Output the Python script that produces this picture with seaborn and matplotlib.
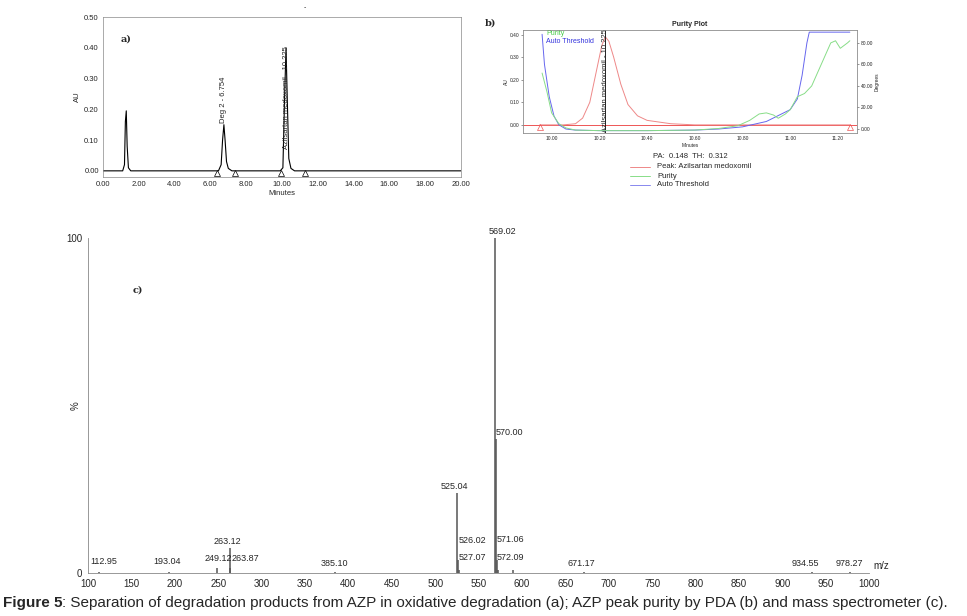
import matplotlib
matplotlib.use("Agg")
import matplotlib.pyplot as plt
import seaborn as sns
import pandas as pd
from matplotlib.lines import Line2D

sns.set_theme(style="white")
plt.rcParams["font.family"] = "Liberation Sans"

# ---- panel a: chromatogram
a_time = [0.0, 1.1, 1.2, 1.25, 1.3, 1.35, 1.42, 1.55, 6.45, 6.6, 6.68, 6.754, 6.82, 6.9, 7.0, 7.2, 9.9, 10.05, 10.15, 10.225, 10.3, 10.38, 10.5, 10.7, 20.0]
a_au = [0.0, 0.0, 0.02, 0.16, 0.195, 0.08, 0.01, 0.0, 0.0, 0.02, 0.1, 0.15, 0.1, 0.03, 0.008, 0.0, 0.0, 0.01, 0.25, 0.40, 0.22, 0.04, 0.008, 0.0, 0.0]
a_marks = [6.35, 7.4, 9.95, 11.3]
a_xticks = [0, 2, 4, 6, 8, 10, 12, 14, 16, 18, 20]
a_yticks = [0.0, 0.1, 0.2, 0.3, 0.4, 0.5]

# ---- panel b: purity plot
b_peak_t = [9.95, 10.05, 10.10, 10.13, 10.16, 10.19, 10.21, 10.225, 10.24, 10.26, 10.29, 10.32, 10.36, 10.40, 10.50, 10.60, 11.25]
b_peak_au = [0.0, 0.0, 0.005, 0.03, 0.10, 0.25, 0.35, 0.39, 0.37, 0.30, 0.18, 0.09, 0.04, 0.02, 0.005, 0.0, 0.0]
b_thr_t = [9.96, 9.97, 9.99, 10.01, 10.03, 10.06, 10.1, 10.2, 10.4, 10.6, 10.7, 10.8, 10.9, 11.0, 11.03, 11.05, 11.07, 11.08, 11.25]
b_thr_deg = [88, 60, 30, 12, 4, 0, -1, -1.5, -1.5, -1, 0, 2, 7, 18, 28, 50, 80, 90, 90]
b_pur_t = [9.96, 9.98, 10.0, 10.03, 10.06, 10.1, 10.2, 10.4, 10.6, 10.7, 10.78, 10.83, 10.87, 10.9, 10.93, 10.95, 10.98, 11.0, 11.03, 11.06, 11.09, 11.13, 11.17, 11.19, 11.21, 11.24, 11.25]
b_pur_deg = [52, 35, 15, 5, 1, -1, -1.5, -1.5, -1, 0.5, 3, 8, 14, 15, 13, 10, 14, 18, 30, 33, 40, 60, 80, 82, 75, 80, 82]
b_xticks = [10.0, 10.2, 10.4, 10.6, 10.8, 11.0, 11.2]
b_xticklabels = ["10.00", "10.20", "10.40", "10.60", "10.80", "11.00", "11.20"]
b_yticks = [0.0, 0.1, 0.2, 0.3, 0.4]
b_y2ticks = [0, 20, 40, 60, 80]

# ---- panel c: mass spectrum
c_mz = [112.95, 193.04, 249.12, 263.12, 263.87, 385.10, 525.04, 526.02, 527.07, 569.02, 570.00, 571.06, 572.09, 590.0, 671.17, 934.55, 978.27]
c_int = [0.4, 0.4, 1.5, 7.5, 1.5, 0.3, 24.0, 4.0, 1.0, 100.0, 40.0, 4.0, 1.0, 0.8, 0.3, 0.2, 0.2]
c_lab = ["112.95", "193.04", "249.12", "263.12", "263.87", "385.10", "525.04", "526.02", "527.07", "569.02", "570.00", "571.06", "572.09", "", "671.17", "934.55", "978.27"]
c_lab_x = [103, 175, 234, 245, 266, 368, 506, 527, 527, 562, 570, 571, 571, 0, 653, 911, 961]
c_lab_y = [2.0, 2.0, 3.0, 8.0, 3.0, 1.5, 24.5, 8.5, 3.2, 100.5, 40.5, 8.8, 3.2, 0, 1.5, 1.5, 1.5]
c_xticks = list(range(100, 1001, 50))

W, H = 967, 616
fig = plt.figure(figsize=(W / 100, H / 100), dpi=100)
fig.patch.set_facecolor("white")

def rect(l, t, r, b):
    return [l / W, 1 - b / H, (r - l) / W, (b - t) / H]

fs = 5.5
# ===== panel a
axa = fig.add_axes(rect(103, 17, 461, 177))
sns.lineplot(x=a_time, y=a_au, ax=axa, color="black", lw=0.8, sort=False)
axa.set_xlim(0, 20); axa.set_ylim(-0.02, 0.5)
axa.set_xticks(a_xticks); axa.set_xticklabels([f"{v:.2f}" for v in a_xticks], fontsize=fs)
axa.set_yticks(a_yticks); axa.set_yticklabels([f"{v:.2f}" for v in a_yticks], fontsize=fs)
axa.set_xticks([x / 2 for x in range(41)], minor=True)
axa.set_yticks([y / 50 for y in range(26)], minor=True)
axa.tick_params(which="both", direction="out", length=2, width=0.5, color="#444", pad=1)
axa.tick_params(which="minor", length=1.2)
axa.set_xlabel("Minutes", fontsize=fs, labelpad=1)
axa.set_ylabel("AU", fontsize=fs, labelpad=2)
for s in axa.spines.values():
    s.set_linewidth(0.5); s.set_color("#888")
axa.plot(a_marks, [-0.006] * len(a_marks), ls="none", marker="^", mfc="white", mec="black", ms=4, mew=0.5)
axa.text(6.754, 0.155, "Deg 2 - 6.754", rotation=90, fontsize=fs, ha="center", va="bottom")
axa.text(10.225, 0.07, "Azilsartan medoxomil - 10.225", rotation=90, fontsize=fs, ha="center", va="bottom")
axa.text(1.0, 0.42, "a)", fontsize=7, fontweight="bold", family="DejaVu Serif")
fig.text(305 / W, 1 - 8 / H, "-", fontsize=5, ha="center", va="center")

# ===== panel b
axb = fig.add_axes(rect(523, 30, 857, 133))
axb.axhline(0, color="#ee5555", lw=0.7)
sns.lineplot(x=b_peak_t, y=b_peak_au, ax=axb, color="#ee8888", lw=0.7, sort=False)
axb.set_xlim(9.88, 11.28); axb.set_ylim(-0.036, 0.42)
axb.axvline(10.225, ymax=1.0, color="black", lw=0.6)
axb.text(10.225, -0.03, "Azilsartan medoxomil - 10.225", rotation=90, fontsize=5.5, ha="center", va="bottom")
axb.plot([9.95, 11.25], [-0.01, -0.01], ls="none", marker="^", mfc="none", mec="#ee5555", ms=4, mew=0.5)
axb2 = axb.twinx()
sns.lineplot(x=b_thr_t, y=b_thr_deg, ax=axb2, color="#6666ee", lw=0.7, sort=False)
sns.lineplot(x=b_pur_t, y=b_pur_deg, ax=axb2, color="#88dd88", lw=0.7, sort=False)
axb2.set_ylim(-3.7, 92)
axb2.set_yticks(b_y2ticks); axb2.set_yticklabels([f"{v:.2f}" for v in b_y2ticks], fontsize=3.5)
axb2.set_ylabel("Degrees", fontsize=3.5, labelpad=1)
axb.set_xticks(b_xticks); axb.set_xticklabels(b_xticklabels, fontsize=3.5)
axb.set_yticks(b_yticks); axb.set_yticklabels([f"{v:.2f}" for v in b_yticks], fontsize=3.5)
axb.set_xticks([9.9 + i * 0.05 for i in range(28)], minor=True)
for ax in (axb, axb2):
    ax.tick_params(which="both", direction="out", length=1.5, width=0.4, color="#444", pad=1)
    for s in ax.spines.values():
        s.set_linewidth(0.4); s.set_color("#888")
axb.set_xlabel("Minutes", fontsize=3.5, labelpad=1)
axb.set_ylabel("AU", fontsize=3.5, labelpad=1)
axb.set_title("Purity Plot", fontsize=5, fontweight="bold", pad=3)
axb.text(0.07, 0.97, "Purity", color="#44cc44", fontsize=5, transform=axb.transAxes, va="center")
axb.text(0.07, 0.89, "Auto Threshold", color="#3333dd", fontsize=5, transform=axb.transAxes, va="center")
fig.text(485 / W, 1 - 23 / H, "b)", fontsize=7, fontweight="bold", family="DejaVu Serif", va="center")
fig.text(653 / W, 1 - 157 / H, "PA:  0.148  TH:  0.312", fontsize=5.5, va="center")
for i, (lab, col) in enumerate([("Peak: Azilsartan medoxomil", "#ee8888"), ("Purity", "#88dd88"), ("Auto Threshold", "#8888ee")]):
    y = 1 - (167 + i * 9) / H
    fig.add_artist(Line2D([630 / W, 650 / W], [y, y], color=col, lw=0.7))
    fig.text(657 / W, y, lab, fontsize=5.5, va="center")

# ===== panel c
axc = fig.add_axes(rect(88, 238, 869, 573))
axc.vlines(c_mz, 0, c_int, color="#555", lw=1.1)
axc.set_xlim(100, 1000); axc.set_ylim(0, 100)
sns.despine(ax=axc)
axc.spines["left"].set_color("#888"); axc.spines["bottom"].set_color("#888")
axc.spines["left"].set_linewidth(0.6); axc.spines["bottom"].set_linewidth(0.6)
axc.set_xticks(c_xticks); axc.set_xticklabels([str(v) for v in c_xticks], fontsize=7)
axc.set_xticks(list(range(100, 1001, 5)), minor=True)
axc.set_yticks([0, 100]); axc.set_yticklabels(["0", "100"], fontsize=7)
axc.tick_params(which="both", direction="out", length=3, width=0.5, color="#555", pad=1)
axc.tick_params(which="minor", length=1.5)
axc.set_ylabel("%", fontsize=7, labelpad=-10)
for mz, it, lab, lx, ly in zip(c_mz, c_int, c_lab, c_lab_x, c_lab_y):
    if lab:
        axc.text(lx, ly, lab, fontsize=6.5, va="bottom", ha="left")
axc.text(1005, 0.5, "m/z", fontsize=7, va="bottom", ha="left")
fig.text(133 / W, 1 - 290 / H, "c)", fontsize=7, fontweight="bold", family="DejaVu Serif", va="center")

# caption
t1 = fig.text(3 / W, 1 - 603 / H, "Figure 5", fontsize=11, fontweight="bold", va="center")
fig.canvas.draw()
bb = t1.get_window_extent()
fig.text(bb.x1 / W, 1 - 603 / H, ": Separation of degradation products from AZP in oxidative degradation (a); AZP peak purity by PDA (b) and mass spectrometer (c).", fontsize=11, va="center")

fig.savefig("out.png", dpi=100, facecolor="white")
